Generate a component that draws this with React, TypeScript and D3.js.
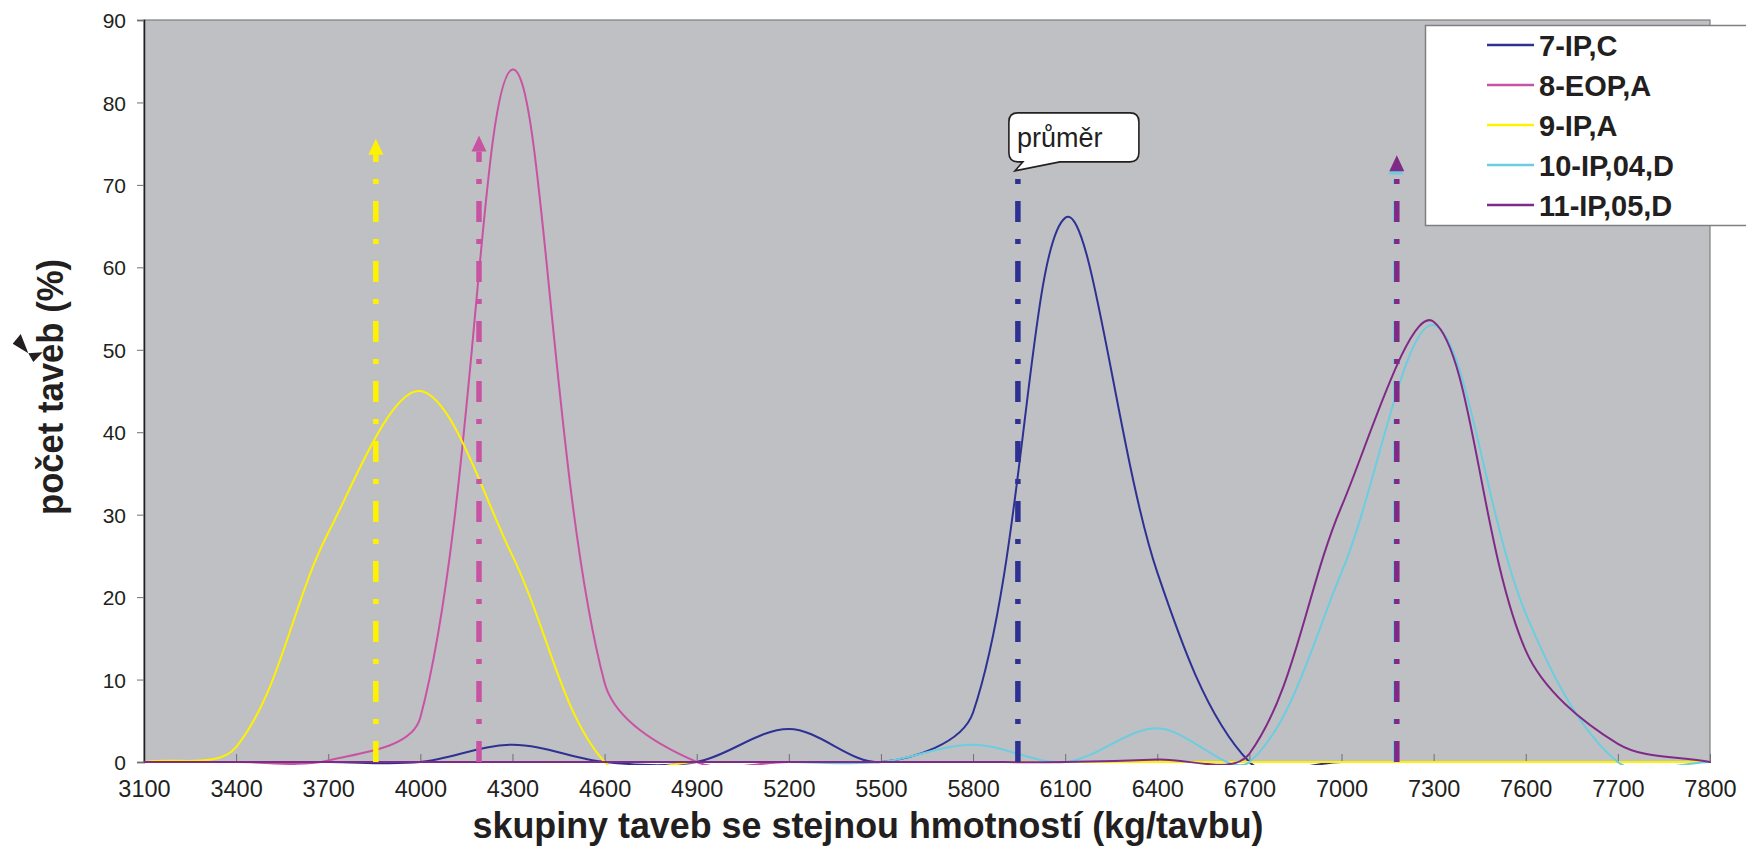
import React, { useEffect, useRef } from 'react';
import * as d3 from 'd3';

// category axis (kg/tavbu) - labels are equally spaced
const categories = [
  3100, 3400, 3700, 4000, 4300, 4600, 4900, 5200, 5500, 5800, 6100, 6400,
  6700, 7000, 7300, 7600, 7700, 7800,
];

const seriesNames = ['7-IP,C', '8-EOP,A', '9-IP,A', '10-IP,04,D', '11-IP,05,D'];
const seriesColors = ['#2e3192', '#c853a3', '#fff200', '#6dcde0', '#7f2a87'];

// počet taveb (%) per category
const ip7C = [0, 0, 0, 0, 2.1, 0, 0, 4, 0, 6, 66, 23, 0, 0, 0, 0, 0, 0];
const eop8A = [0, 0, 0.2, 5.4, 84, 9.6, 0, 0, 0, 0, 0, 0, 0, 0, 0, 0, 0, 0];
const ip9A = [0, 1.8, 27.8, 45, 25, 0, 0, 0, 0, 0, 0, 0, 0, 0, 0, 0, 0, 0];
const ip10D = [0, 0, 0, 0, 0, 0, 0, 0, 0, 2.1, 0, 4.1, 0, 23, 53, 18, 0, 0];
const ip11D = [0, 0, 0, 0, 0, 0, 0, 0, 0, 0, 0, 0.3, 1, 31, 53.4, 13.5, 2.2, 0];

// mean of each series (kg/tavbu) and the height of its arrow tip (%)
const meanValues = [5946, 4191, 3855, 7177, 7180];
const meanTops = [75, 76, 75.6, 73.2, 73.6];
const meanOrder = [2, 1, 0, 3, 4];

const yTicks = [0, 10, 20, 30, 40, 50, 60, 70, 80, 90];

const xTitle = 'skupiny taveb se stejnou hmotností (kg/tavbu)';
const yTitle = 'počet taveb (%)';
const calloutText = 'průměr';

const FONT = '"Liberation Sans", Arial, Helvetica, sans-serif';
const INK = '#231f20';

// smoothing like the spreadsheet's "smoothed line": bezier with tangents
// parallel to the neighbours, scaled by chord lengths
const smoothPath = (pts: [number, number][]) => {
  const p = d3.path();
  const n = pts.length;
  const dist = (a: [number, number], b: [number, number]) =>
    Math.hypot(b[0] - a[0], b[1] - a[1]);
  p.moveTo(pts[0][0], pts[0][1]);
  for (let i = 0; i < n - 1; i++) {
    const p0 = pts[Math.max(i - 1, 0)];
    const p1 = pts[i];
    const p2 = pts[i + 1];
    const p3 = pts[Math.min(i + 2, n - 1)];
    const d01 = dist(p0, p1);
    const d12 = dist(p1, p2);
    const d23 = dist(p2, p3);
    let c1: [number, number] = [p1[0] + (p2[0] - p1[0]) / 3, p1[1] + (p2[1] - p1[1]) / 3];
    let c2: [number, number] = [p2[0] - (p2[0] - p1[0]) / 3, p2[1] - (p2[1] - p1[1]) / 3];
    if (i > 0) {
      const f = d12 / (d01 + d12) / 3;
      c1 = [p1[0] + (p2[0] - p0[0]) * f, p1[1] + (p2[1] - p0[1]) * f];
    }
    if (i < n - 2) {
      const f = d12 / (d12 + d23) / 3;
      c2 = [p2[0] - (p3[0] - p1[0]) * f, p2[1] - (p3[1] - p1[1]) * f];
    }
    p.bezierCurveTo(c1[0], c1[1], c2[0], c2[1], p2[0], p2[1]);
  }
  return p.toString();
};

const Chart: React.FC = () => {
  const ref = useRef<SVGSVGElement | null>(null);

  useEffect(() => {
    if (!ref.current) return;
    const svg = d3.select(ref.current);
    svg.selectAll('*').remove();

    const left = 144;
    const right = 1710;
    const top = 20;
    const bottom = 762;
    const step = (right - left) / (categories.length - 1);

    const x = d3
      .scaleLinear()
      .domain(categories)
      .range(categories.map((_, i) => left + i * step));
    const y = d3.scaleLinear().domain([0, 90]).range([bottom, top]);

    const series = [ip7C, eop8A, ip9A, ip10D, ip11D];

    // plot area
    svg
      .append('rect')
      .attr('x', left)
      .attr('y', top)
      .attr('width', right - left)
      .attr('height', bottom - top)
      .attr('fill', '#bfc0c4')
      .attr('stroke', '#7f7f7f')
      .attr('stroke-width', 1.2);

    svg
      .append('clipPath')
      .attr('id', 'plotClip')
      .append('rect')
      .attr('x', left)
      .attr('y', top)
      .attr('width', right - left)
      .attr('height', bottom - top + 3);

    // x axis, ticks pointing into the plot
    const xAxis = svg
      .append('g')
      .attr('transform', `translate(0,${bottom})`)
      .call(
        d3
          .axisBottom(x)
          .tickValues(categories)
          .tickSize(-8)
          .tickFormat((d) => String(d))
      );
    xAxis.select('.domain').attr('stroke', INK);
    xAxis.selectAll('.tick line').attr('stroke', '#6f6f6f');
    xAxis
      .selectAll('.tick text')
      .attr('y', 35)
      .attr('dy', 0)
      .attr('fill', INK)
      .attr('font-family', FONT)
      .attr('font-size', 23.5);

    // y axis
    const yAxis = svg
      .append('g')
      .attr('transform', `translate(${left},0)`)
      .call(d3.axisLeft(y).tickValues(yTicks).tickSize(7).tickPadding(11));
    yAxis.select('.domain').attr('stroke', INK).attr('stroke-width', 1.5);
    yAxis.selectAll('.tick line').attr('stroke', '#6f6f6f');
    yAxis
      .selectAll('.tick text')
      .attr('fill', INK)
      .attr('font-family', FONT)
      .attr('font-size', 21)
      .attr('dy', '0.36em');

    // series curves
    const curves = svg.append('g').attr('clip-path', 'url(#plotClip)');
    series.forEach((vals, i) => {
      const pts = vals.map((v, j) => [x(categories[j]), y(v)] as [number, number]);
      curves
        .append('path')
        .attr('d', smoothPath(pts))
        .attr('fill', 'none')
        .attr('stroke', seriesColors[i])
        .attr('stroke-width', 2);
    });

    // mean lines with arrows
    meanOrder.forEach((i) => {
      const mx = x(meanValues[i]);
      const tipY = y(meanTops[i]);
      const baseY = tipY + 16;
      svg
        .append('line')
        .attr('x1', mx)
        .attr('x2', mx)
        .attr('y1', bottom)
        .attr('y2', baseY)
        .attr('stroke', seriesColors[i])
        .attr('stroke-width', 5.5)
        .attr('stroke-dasharray', '21 17 5 17');
      svg
        .append('path')
        .attr('d', `M${mx},${tipY}L${mx + 7.5},${baseY}L${mx - 7.5},${baseY}Z`)
        .attr('fill', seriesColors[i]);
    });

    // callout "průměr" pointing at the mean of 7-IP,C
    const tipX = x(meanValues[0]) - 3;
    const tipY = y(71.7);
    const bx0 = tipX - 6;
    const bx1 = tipX + 124;
    const by0 = tipY - 58;
    const by1 = tipY - 9;
    const r = 9;
    svg
      .append('path')
      .attr(
        'd',
        `M${bx0 + r},${by0}H${bx1 - r}Q${bx1},${by0} ${bx1},${by0 + r}V${by1 - r}` +
          `Q${bx1},${by1} ${bx1 - r},${by1}H${tipX + 45}L${tipX},${tipY}L${tipX + 8},${by1}` +
          `H${bx0 + r}Q${bx0},${by1} ${bx0},${by1 - r}V${by0 + r}Q${bx0},${by0} ${bx0 + r},${by0}Z`
      )
      .attr('fill', '#ffffff')
      .attr('stroke', INK)
      .attr('stroke-width', 1.6);
    svg
      .append('text')
      .attr('x', bx0 + 8)
      .attr('y', by0 + 34)
      .attr('font-family', FONT)
      .attr('font-size', 27)
      .attr('fill', INK)
      .text(calloutText);

    // legend
    const lg = svg.append('g');
    lg.append('rect')
      .attr('x', 1425.5)
      .attr('y', 25.5)
      .attr('width', 340)
      .attr('height', 200)
      .attr('fill', '#ffffff')
      .attr('stroke', '#7f7f7f')
      .attr('stroke-width', 1.5);
    seriesNames.forEach((name, i) => {
      const cy = 45 + i * 40;
      lg.append('line')
        .attr('x1', 1487)
        .attr('x2', 1534)
        .attr('y1', cy)
        .attr('y2', cy)
        .attr('stroke', seriesColors[i])
        .attr('stroke-width', 2.5);
      lg.append('text')
        .attr('x', 1539)
        .attr('y', cy + 11)
        .attr('font-family', FONT)
        .attr('font-weight', 'bold')
        .attr('font-size', 29)
        .attr('fill', INK)
        .text(name);
    });

    // axis titles
    svg
      .append('text')
      .attr('x', 868)
      .attr('y', 838)
      .attr('text-anchor', 'middle')
      .attr('font-family', FONT)
      .attr('font-weight', 'bold')
      .attr('font-size', 37)
      .attr('fill', INK)
      .attr('textLength', 791)
      .attr('lengthAdjust', 'spacingAndGlyphs')
      .text(xTitle);

    svg
      .append('text')
      .attr('transform', 'translate(63,387) rotate(-90)')
      .attr('text-anchor', 'middle')
      .attr('font-family', FONT)
      .attr('font-weight', 'bold')
      .attr('font-size', 37)
      .attr('fill', INK)
      .attr('textLength', 256)
      .attr('lengthAdjust', 'spacingAndGlyphs')
      .text(yTitle);

    // stray glyph next to the y title
    svg
      .append('path')
      .attr('d', 'M12.7,343.8L20.7,334L28.3,353.2ZM28.3,353.2L42.7,352.2L33.3,362Z')
      .attr('fill', INK);
  }, []);

  return (
    <svg
      ref={ref}
      width={1746}
      height={860}
      style={{ position: 'absolute', left: 0, top: 0, background: '#ffffff' }}
    ></svg>
  );
};

export default function App() {
  return <Chart />;
}
